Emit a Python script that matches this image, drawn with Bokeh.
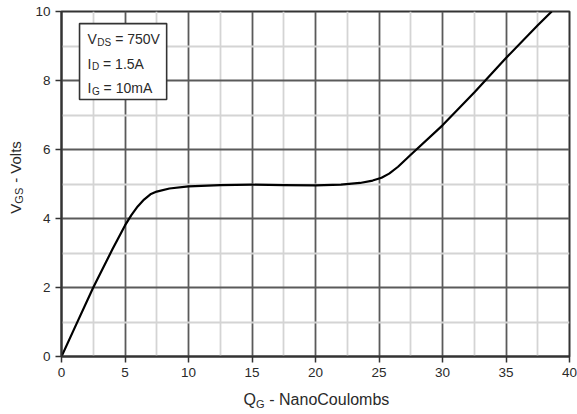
import math
from bokeh.plotting import figure
from bokeh.models import FixedTicker, Label, Range1d
from bokeh.embed import file_html
from bokeh.resources import INLINE

# ---- data ----
qg = [0, 1, 2.5, 4, 5, 5.5, 6, 6.5, 7, 7.5, 8.5, 10, 12.5, 15, 17.5, 20, 22, 23.5,
      24.5, 25.2, 25.8, 26.5, 27.5, 30, 32.5, 35, 37.5, 38.6]
vgs = [0, 0.8, 2.0, 3.1, 3.8, 4.1, 4.35, 4.55, 4.7, 4.78, 4.87, 4.93, 4.97, 4.98,
       4.97, 4.96, 4.98, 5.03, 5.1, 5.18, 5.3, 5.5, 5.85, 6.7, 7.65, 8.65, 9.6, 10.0]

x_major = [0, 5, 10, 15, 20, 25, 30, 35, 40]
x_minor = [2.5, 7.5, 12.5, 17.5, 22.5, 27.5, 32.5, 37.5]
y_major = [0, 2, 4, 6, 8, 10]
y_minor = [1, 3, 5, 7, 9]

legend_main = ["V", "I", "I"]
legend_sub = ["DS", "D", "G"]
legend_rest = [" = 750V", " = 1.5A", " = 10mA"]
legend_rows_y = [9.19, 8.49, 7.77]
legend_box = dict(left=1.42, right=8.28, top=9.65, bottom=7.45)
legend_text_x = 2.05

xlabel_main, xlabel_sub, xlabel_rest = "Q", "G", "- NanoCoulombs"
ylabel_main, ylabel_sub, ylabel_rest = "V", "GS", "- Volts"

# Arial/Liberation Sans advance widths (per em)
W = {' ': .278, '-': .333, '=': .584, '.': .278, 'A': .667, 'C': .722, 'D': .722,
     'G': .778, 'I': .278, 'N': .722, 'Q': .778, 'S': .667, 'V': .667, 'a': .556,
     'b': .556, 'l': .222, 'm': .833, 'n': .556, 'o': .556, 's': .5, 't': .278,
     'u': .556}
NBSP = "\u00a0"


def tw(s, size):
    return sum(W.get(c, .556) for c in s) * size


def lead(s, size):
    """width of leading spaces (SVG drops them) and the stripped text"""
    n = len(s) - len(s.lstrip(" "))
    return n * W[" "] * size, s.lstrip(" ")


FONT = "Liberation Sans"
TXT = "#2a2a2a"

p = figure(width=577, height=414, output_backend="svg", toolbar_location=None,
           x_range=Range1d(0, 40), y_range=Range1d(0, 10),
           min_border_left=61, min_border_right=8, min_border_top=11,
           min_border_bottom=58)
p.background_fill_color = "white"
p.border_fill_color = "white"
p.outline_line_color = "#333333"
p.outline_line_width = 2

p.xaxis.ticker = FixedTicker(ticks=x_major, minor_ticks=x_minor)
p.yaxis.ticker = FixedTicker(ticks=y_major, minor_ticks=y_minor)
p.xgrid.ticker = FixedTicker(ticks=x_major, minor_ticks=x_minor)
p.ygrid.ticker = FixedTicker(ticks=y_major, minor_ticks=y_minor)

for g in (p.xgrid, p.ygrid):
    g.grid_line_color = "#5a5a5a"
    g.grid_line_width = 1.8
    g.minor_grid_line_color = "#d4d4d4"
    g.minor_grid_line_width = 1.8

for ax in (p.xaxis, p.yaxis):
    ax.axis_line_color = "#333333"
    ax.axis_line_width = 2
    ax.major_tick_line_color = "#333333"
    ax.major_tick_line_width = 1.5
    ax.major_tick_out = 6
    ax.major_tick_in = 0
    ax.minor_tick_line_color = None
    ax.major_label_text_font = FONT
    ax.major_label_text_font_size = "13.5px"
    ax.major_label_text_color = TXT

p.xaxis.major_label_standoff = 5
p.yaxis.major_label_standoff = 5

p.line(qg, vgs, line_color="black", line_width=2.2, line_join="round")

# legend box
p.quad(left=[legend_box["left"]], right=[legend_box["right"]],
       top=[legend_box["top"]], bottom=[legend_box["bottom"]],
       fill_color="white", line_color="#333333", line_width=1.6)

LS = 14
SS = 10
for m, s, r, yy in zip(legend_main, legend_sub, legend_rest, legend_rows_y):
    p.add_layout(Label(x=legend_text_x, y=yy, text=m, text_font=FONT,
                       text_font_size=f"{LS}px", text_color=TXT,
                       text_baseline="middle", text_align="left"))
    off = tw(m, LS) + 0.5
    p.add_layout(Label(x=legend_text_x, y=yy, text=s, text_font=FONT,
                       text_font_size=f"{SS}px", text_color=TXT,
                       text_baseline="middle", text_align="left",
                       x_offset=off, y_offset=-3))
    off += tw(s, SS)
    sp, rr = lead(r, LS)
    p.add_layout(Label(x=legend_text_x, y=yy, text=rr, text_font=FONT,
                       text_font_size=f"{LS}px", text_color=TXT,
                       text_baseline="middle", text_align="left",
                       x_offset=off + sp))


def gap_text(main, sub, rest, size, sub_size):
    """main text + non-breaking spaces leaving room for the subscript + rest"""
    room = tw(sub, sub_size) + W[" "] * size
    k = max(1, round(room / (W[" "] * size)))
    return main + NBSP * k + rest


# x axis title: main text and subscript each in the "below" panel (not clipped)
XS, XSS = 16, 11
xl, yl = 14.33, -1.26
p.add_layout(Label(x=xl, y=yl, text=gap_text(xlabel_main, xlabel_sub, xlabel_rest, XS, XSS),
                   text_font=FONT, text_font_size=f"{XS}px", text_color=TXT,
                   text_baseline="middle", text_align="left"), "below")
p.add_layout(Label(x=xl, y=yl, text=xlabel_sub, text_font=FONT,
                   text_font_size=f"{XSS}px", text_color=TXT,
                   text_baseline="middle", text_align="left",
                   x_offset=tw(xlabel_main, XS), y_offset=-4), "below")

# y axis title (rotated) in the "left" panel
YS, YSS = 15, 11
xy, yy0 = -3.62, 4.14
p.add_layout(Label(x=xy, y=yy0, text=gap_text(ylabel_main, ylabel_sub, ylabel_rest, YS, YSS),
                   text_font=FONT, text_font_size=f"{YS}px", text_color=TXT,
                   angle=math.pi / 2, text_baseline="middle", text_align="left"), "left")
p.add_layout(Label(x=xy, y=yy0, text=ylabel_sub, text_font=FONT,
                   text_font_size=f"{YSS}px", text_color=TXT, angle=math.pi / 2,
                   text_baseline="middle", text_align="left",
                   y_offset=tw(ylabel_main, YS), x_offset=3), "left")

open("out.html", "w").write(file_html(p, INLINE))
